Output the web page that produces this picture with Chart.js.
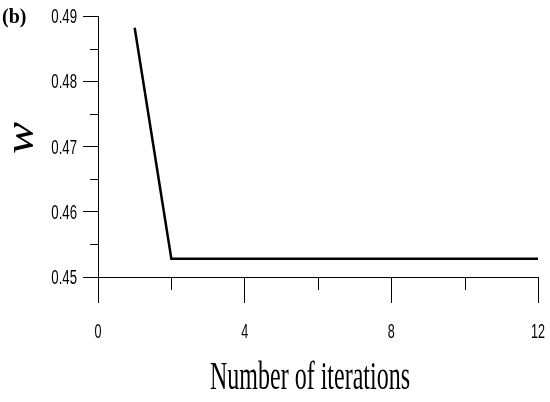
<!DOCTYPE html>
<html>
<head>
<meta charset="utf-8">
<script src="https://cdn.jsdelivr.net/npm/chart.js@4"></script>
<style>
  html, body { margin: 0; padding: 0; background: #fff; }
  #wrap { width: 550px; height: 402px; }
</style>
</head>
<body>
<div id="wrap"><canvas id="c" width="550" height="402"></canvas></div>
<script>
// data
const iterations = [1, 2, 3, 4, 5, 6, 7, 8, 9, 10, 11, 12];
const wValues = [0.4882, 0.4528, 0.4528, 0.4528, 0.4528, 0.4528, 0.4528, 0.4528, 0.4528, 0.4528, 0.4528, 0.4528];
const xMinorTicks = [2, 6, 10];
const yMinorTicks = [0.455, 0.465, 0.475, 0.485];

const panelLabel = '(b)';
const xTitle = 'Number of iterations';
const yTitle = 'w';

// condensed sans text, like the original figure
function narrowText(ctx, text, x, y, align, size, sx) {
  ctx.save();
  ctx.translate(x, y);
  ctx.scale(sx, 1);
  ctx.font = size + 'px "Liberation Sans", Arial, sans-serif';
  ctx.textAlign = align;
  ctx.textBaseline = 'alphabetic';
  ctx.fillText(text, 0, 0);
  ctx.restore();
}

// minor ticks, tick labels and titles
const extras = {
  id: 'extras',
  afterDraw(chart) {
    const ctx = chart.ctx;
    const x = chart.scales.x, y = chart.scales.y;
    ctx.save();
    ctx.strokeStyle = '#000';
    ctx.lineWidth = 1;
    ctx.beginPath();
    xMinorTicks.forEach(v => {
      const px = Math.round(x.getPixelForValue(v)) + 0.5;
      ctx.moveTo(px, y.bottom);
      ctx.lineTo(px, y.bottom + 13);
    });
    yMinorTicks.forEach(v => {
      const py = Math.round(y.getPixelForValue(v)) + 0.5;
      ctx.moveTo(x.left - 8, py);
      ctx.lineTo(x.left, py);
    });
    ctx.stroke();

    ctx.fillStyle = '#000';
    x.ticks.forEach(t => {
      narrowText(ctx, String(t.value), x.getPixelForValue(t.value), y.bottom + 61, 'center', 21, 0.6);
    });
    y.ticks.forEach(t => {
      narrowText(ctx, t.value.toFixed(2), x.left - 21, y.getPixelForValue(t.value) + 7, 'right', 20, 0.66);
    });

    // panel label
    ctx.font = 'bold 20px "Liberation Serif", serif';
    ctx.textAlign = 'left';
    ctx.textBaseline = 'alphabetic';
    ctx.fillText(panelLabel, 2, 23);

    // x title, condensed serif
    ctx.save();
    ctx.translate(310, 389);
    ctx.scale(0.6, 1);
    ctx.font = '40px "Liberation Serif", serif';
    ctx.textAlign = 'center';
    ctx.fillText(xTitle, 0, 0);
    ctx.restore();

    // y title, rotated italic
    ctx.save();
    ctx.translate(24, 138);
    ctx.rotate(-Math.PI / 2);
    ctx.scale(1.2, 1);
    ctx.font = 'italic 40px "Liberation Serif", serif';
    ctx.textAlign = 'center';
    ctx.textBaseline = 'middle';
    ctx.fillText(yTitle, 0, -2);
    ctx.restore();
    ctx.restore();
  }
};

new Chart(document.getElementById('c'), {
  type: 'line',
  data: {
    datasets: [{
      data: iterations.map((it, i) => ({ x: it, y: wValues[i] })),
      borderColor: '#000',
      borderWidth: 2.5,
      pointRadius: 0,
      tension: 0,
      fill: false,
      clip: false,
    }],
  },
  options: {
    responsive: false,
    animation: false,
    layout: { padding: { top: 16, right: 12, left: 0, bottom: 0 } },
    plugins: { legend: { display: false }, tooltip: { enabled: false } },
    scales: {
      x: {
        type: 'linear',
        min: 0, max: 12,
        ticks: { stepSize: 4, display: false },
        grid: { drawOnChartArea: false, drawTicks: true, tickLength: 26, color: '#000', tickColor: '#000' },
        border: { display: true, color: '#000', width: 1 },
        afterFit: (s) => { s.height = 125; s.paddingLeft = 0; s.paddingRight = 0; },
      },
      y: {
        min: 0.45, max: 0.49,
        ticks: { stepSize: 0.01, display: false },
        grid: { drawOnChartArea: false, drawTicks: true, tickLength: 15, color: '#000', tickColor: '#000' },
        border: { display: true, color: '#000', width: 1 },
        afterFit: (s) => { s.width = 98; s.paddingTop = 0; s.paddingBottom = 0; },
      },
    },
  },
  plugins: [extras],
});
</script>
</body>
</html>
